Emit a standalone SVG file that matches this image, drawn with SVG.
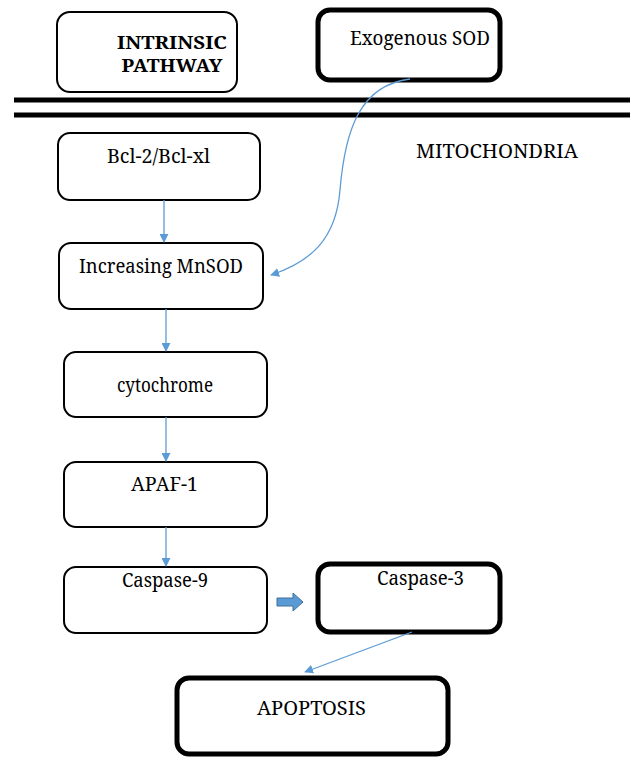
<svg xmlns="http://www.w3.org/2000/svg" width="630" height="759" viewBox="0 0 630 759">
<style>
.box{fill:#fff;stroke:#000;stroke-width:2}
.thick{fill:#fff;stroke:#000;stroke-width:5}
text{font-family:'Noto Serif','DejaVu Serif',serif;font-size:19px;fill:#000;text-anchor:middle}
.b{font-weight:bold;font-size:18px}
.c{fill:none;stroke:#5b9bd5;stroke-width:1.3}
</style>
<defs>
<marker id="ah" viewBox="0 0 10 10" refX="9" refY="5" markerWidth="9" markerHeight="9" markerUnits="userSpaceOnUse" orient="auto">
<path d="M0,0 L10,5 L0,10 z" fill="#5b9bd5"/>
</marker>
</defs>
<rect width="630" height="759" fill="#fff"/>
<g id="membrane">
<line x1="14" y1="100" x2="630" y2="100" stroke="#000" stroke-width="5"/>
<line x1="14" y1="115" x2="630" y2="115" stroke="#000" stroke-width="5"/>
<text x="497" y="158" font-size="17" textLength="162" lengthAdjust="spacingAndGlyphs">MITOCHONDRIA</text>
</g>
<g id="intrinsic"><rect class="box" x="57" y="12" width="180" height="80" rx="13"/>
<text class="b" x="172" y="49" textLength="110" lengthAdjust="spacingAndGlyphs">INTRINSIC</text><text class="b" x="172" y="72" textLength="101" lengthAdjust="spacingAndGlyphs">PATHWAY</text></g>
<g id="exo"><rect class="thick" x="318" y="10" width="182" height="70" rx="12"/>
<text x="420" y="45" font-size="20" textLength="140" lengthAdjust="spacingAndGlyphs">Exogenous SOD</text></g>
<g id="bcl"><rect class="box" x="58" y="133" width="202" height="67" rx="12"/>
<text x="158.5" y="163" textLength="103" lengthAdjust="spacingAndGlyphs">Bcl-2/Bcl-xl</text></g>
<g id="mnsod"><rect class="box" x="59" y="243" width="204" height="66" rx="12"/>
<text x="161" y="273" textLength="164" lengthAdjust="spacingAndGlyphs">Increasing MnSOD</text></g>
<g id="cyto"><rect class="box" x="64" y="352" width="203" height="65" rx="12"/>
<text x="165" y="392" textLength="96" lengthAdjust="spacingAndGlyphs">cytochrome</text></g>
<g id="apaf"><rect class="box" x="64" y="462" width="203" height="65" rx="12"/>
<text x="164.5" y="491" textLength="67" lengthAdjust="spacingAndGlyphs">APAF-1</text></g>
<g id="casp9"><rect class="box" x="64" y="567" width="203" height="66" rx="12"/>
<text x="165" y="587" textLength="86" lengthAdjust="spacingAndGlyphs">Caspase-9</text></g>
<g id="casp3"><rect class="thick" x="318" y="564" width="182" height="68" rx="12"/>
<text x="420.5" y="585" textLength="87" lengthAdjust="spacingAndGlyphs">Caspase-3</text></g>
<g id="apoptosis"><rect class="thick" x="177" y="678" width="271" height="76" rx="12"/>
<text x="311.5" y="715" textLength="109" lengthAdjust="spacingAndGlyphs">APOPTOSIS</text></g>
<g id="connectors">
<line class="c" x1="164" y1="200" x2="164" y2="242" marker-end="url(#ah)"/>
<line class="c" x1="166" y1="309" x2="166" y2="351" marker-end="url(#ah)"/>
<line class="c" x1="166" y1="417" x2="166" y2="461" marker-end="url(#ah)"/>
<line class="c" x1="166" y1="527" x2="166" y2="566" marker-end="url(#ah)"/>
<path class="c" d="M410,79 C360,85 345,130 340,190 C336,240 310,262 271,275" marker-end="url(#ah)"/>
<line class="c" x1="412" y1="632" x2="305" y2="672" marker-end="url(#ah)"/>
<path d="M277,598 L293,598 L293,593 L303,602 L293,611 L293,606 L277,606 z" fill="#5b9bd5" stroke="#41719c" stroke-width="1"/>
</g>
</svg>
